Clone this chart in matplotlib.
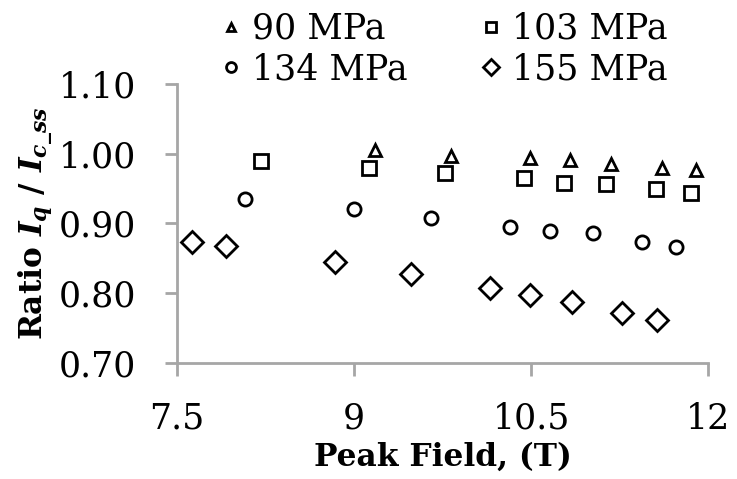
import numpy as np
import matplotlib
matplotlib.use("Agg")
import matplotlib.pyplot as plt

# values
x_90 = [9.18, 9.82, 10.49, 10.83, 11.18, 11.61, 11.90]
y_90 = [1.005, 0.997, 0.994, 0.991, 0.985, 0.980, 0.977]

x_103 = [8.21, 9.13, 9.77, 10.44, 10.78, 11.13, 11.56, 11.85]
y_103 = [0.990, 0.979, 0.972, 0.965, 0.958, 0.956, 0.950, 0.944]

x_134 = [8.08, 9.00, 9.65, 10.32, 10.66, 11.02, 11.44, 11.73]
y_134 = [0.935, 0.921, 0.908, 0.895, 0.889, 0.886, 0.873, 0.866]

x_155 = [7.63, 7.92, 8.84, 9.48, 10.15, 10.49, 10.85, 11.27, 11.57]
y_155 = [0.873, 0.868, 0.845, 0.828, 0.808, 0.797, 0.788, 0.772, 0.761]

x_ticks = [7.5, 9, 10.5, 12]
x_tick_labels = ["7.5", "9", "10.5", "12"]
y_ticks = [0.70, 0.80, 0.90, 1.00, 1.10]

plt.rcParams['font.family'] = ['DejaVu Serif']
plt.rcParams['mathtext.fontset'] = 'custom'
plt.rcParams['mathtext.it'] = 'DejaVu Serif:italic:bold'
plt.rcParams['mathtext.rm'] = 'DejaVu Serif:bold'

fig = plt.figure(figsize=(7.37, 4.79), dpi=100)
ax = fig.add_axes([0.240, 0.242, 0.721, 0.583])

gray = '#a6a6a6'
common = dict(linestyle='none', markerfacecolor='white', markeredgecolor='black', markeredgewidth=2)
h90, = ax.plot(x_90, y_90, marker='^', markersize=8, label='90 MPa', **common)
h103, = ax.plot(x_103, y_103, marker='s', markersize=9.5, label='103 MPa', **common)
h134, = ax.plot(x_134, y_134, marker='o', markersize=9.5, label='134 MPa', **common)
h155, = ax.plot(x_155, y_155, marker='D', markersize=11, label='155 MPa', **common)

ax.set_xlim(7.5, 12)
ax.set_ylim(0.70, 1.10)
ax.set_xticks(x_ticks)
ax.set_xticklabels(x_tick_labels)
ax.set_yticks(y_ticks)
ax.set_yticklabels([f"{v:.2f}" for v in y_ticks])

for s in ['top', 'right']:
    ax.spines[s].set_visible(False)
for s in ['left', 'bottom']:
    ax.spines[s].set_color(gray)
    ax.spines[s].set_linewidth(2)
ax.tick_params(axis='both', colors=gray, labelcolor='black', width=2, length=9,
               labelsize=25, direction='out')
ax.tick_params(axis='x', pad=19)
ax.tick_params(axis='y', pad=20)

ax.set_xlabel('Peak Field, (T)', fontsize=22.5, fontweight='bold', labelpad=4)
ax.set_ylabel(r'Ratio $I_q$ / $I_{c\_ss}$', fontsize=22.5, fontweight='bold', labelpad=4)

# row-wise order: 90, 103 / 134, 155
fig.legend([h90, h134, h103, h155], ['90 MPa', '134 MPa', '103 MPa', '155 MPa'],
           loc='upper left', bbox_to_anchor=(217 / 737, 0.975), ncol=2, frameon=False,
           fontsize=25, handletextpad=0.2, columnspacing=2.0, labelspacing=0.18,
           borderpad=0, borderaxespad=0, handlelength=0.8, markerscale=0.75)

fig.savefig('out.png', dpi=100)
